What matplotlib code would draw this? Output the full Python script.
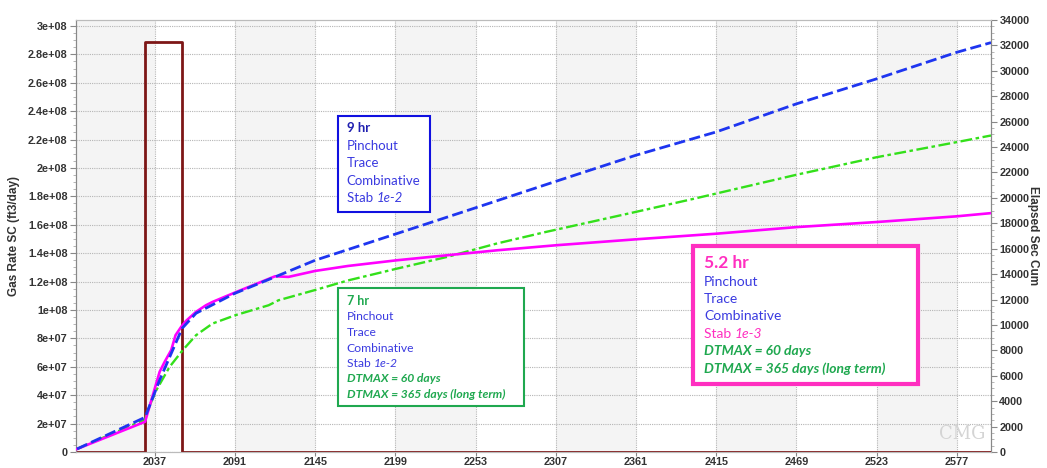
import matplotlib

matplotlib.use("Agg")
import matplotlib.pyplot as plt
from matplotlib.patches import Rectangle
from matplotlib.text import Annotation
from matplotlib.ticker import AutoMinorLocator, FixedLocator

# time axis ticks
x_ticks = [2037, 2091, 2145, 2199, 2253, 2307, 2361, 2415, 2469, 2523, 2577]
x_range = (1984, 2600)

# gas rate pulse (left axis)
rate_t = [1984, 2030.5, 2055.5, 2600]
rate_sc = [0, 2.89e8, 0, 0]

# elapsed CPU seconds (right axis), one run per setting
blue_t = [1984.7, 2030.5, 2040.3, 2055.5, 2064.8, 2091, 2118, 2145, 2199, 2253,
          2307, 2361, 2415, 2469, 2523, 2577, 2600]
blue_sec = [240, 2730, 5660, 9740, 10920, 12490, 13780, 15090, 17150, 19220,
            21300, 23360, 25190, 27400, 29370, 31460, 32220]

pink_t = [1984.7, 2030.5, 2040.3, 2043.7, 2048.1, 2051, 2054.8, 2058.1, 2064.8,
          2071.5, 2075.9, 2091, 2118, 2127, 2145, 2167, 2200, 2267, 2307, 2361,
          2415, 2469, 2523, 2577, 2600]
pink_sec = [240, 2380, 6310, 7100, 8020, 9190, 9850, 10320, 11030,
            11550, 11810, 12550, 13830, 13780, 14250, 14640, 15090, 15870, 16270, 16740,
            17180, 17700, 18100, 18550, 18800]

green_t = [1984.7, 2030.5, 2033, 2038.1, 2047, 2055.9, 2064.8, 2075.9, 2091.4,
           2113.7, 2120.3, 2145, 2167, 2200, 2233.7, 2267, 2300, 2361, 2400.3,
           2469, 2523, 2577, 2600]
green_sec = [240, 2550, 3500, 4870, 6700, 8020, 9190, 10110, 10770,
             11550, 11940, 12750, 13500, 14430, 15350, 16400, 17310, 18900, 19940,
             21820, 23200, 24390, 24910]

W, H = 1047, 468
TICK_FONT = dict(family="Liberation Sans", weight="bold", size=7.8, color="#333333")
BOX_FONT = "Lato"
C_BLUE_TXT = "#3a3ae0"
C_GREEN_TXT = "#1fa84f"
C_PINK = "#ff2fc0"

fig = plt.figure(figsize=(W / 100, H / 100), dpi=100)
ax = fig.add_axes([76 / W, 1 - 452 / H, (991 - 76) / W, (452 - 20) / H])
ax2 = ax.twinx()

ax.set_xlim(*x_range)
ax.set_ylim(0, 3.042e8)
ax2.set_ylim(0, 34000)

# alternating shaded bands between the time gridlines
edges = [x_range[0]] + x_ticks + [x_range[1]]
for i in range(len(edges) - 1):
    if i % 2 == 0:
        ax.axvspan(edges[i], edges[i + 1], color="#f4f4f4", zorder=0, lw=0)

ax.set_xticks(x_ticks)
ax.set_xticklabels([str(t) for t in x_ticks], **TICK_FONT)
ax.yaxis.set_major_locator(FixedLocator([i * 2e7 for i in range(16)]))
ylabels = ["0"] + [
    (f"{v:.1e}".replace(".0e", "e")) for v in [i * 2e7 for i in range(1, 16)]
]
ax.set_yticklabels(ylabels, **TICK_FONT)
ax.yaxis.set_minor_locator(AutoMinorLocator(4))

ax2.set_yticks(range(0, 34001, 2000))
ax2.set_yticklabels([str(v) for v in range(0, 34001, 2000)], **TICK_FONT)
ax2.yaxis.set_minor_locator(AutoMinorLocator(4))

for a in (ax, ax2):
    a.tick_params(axis="both", which="major", length=4, width=0.8, color="#888888", pad=2)
    a.tick_params(axis="both", which="minor", length=2, width=0.6, color="#aaaaaa")
    for s in a.spines.values():
        s.set_color("#bbbbbb")
        s.set_linewidth(0.8)
    a.spines["left"].set_color("#888888")
    a.spines["right"].set_color("#888888")
ax.tick_params(axis="x", which="major", length=3, pad=0.5)

ax.grid(True, which="major", color="#b5b5b5", linestyle=(0, (1, 1)), linewidth=0.8, zorder=1)
ax.set_axisbelow(True)

ax.set_ylabel("Gas Rate SC (ft3/day)", fontfamily="Liberation Sans", fontweight="bold",
              fontsize=8.5, color="#333333", labelpad=6)
ax2.set_ylabel("Elapsed Sec Cum", fontfamily="Liberation Sans", fontweight="bold",
               fontsize=8.5, color="#333333", rotation=-90, labelpad=7)

ax.step(rate_t, rate_sc, where="post", color="#7d1616", lw=2, zorder=3)

ax2.plot(green_t, green_sec, color="#33e01a", lw=1.7, dashes=(5, 1.5, 1.5, 1.5), zorder=4)
ax2.plot(pink_t, pink_sec, color="#ff00ff", lw=1.9, zorder=5)
ax2.plot(blue_t, blue_sec, color="#1e35f0", lw=2.0, dashes=(4, 1.6), zorder=6)


def px_text(x, y, s, **kw):
    kw.setdefault("family", BOX_FONT)
    kw.setdefault("zorder", 11)
    return fig.text(x / W, 1 - y / H, s, va="center", ha="left", **kw)


def stab_line(x, y, val, color, size):
    t = px_text(x, y, "Stab ", color=color, size=size)
    fig.add_artist(Annotation(val, xy=(1, 0), xycoords=t, va="bottom", ha="left",
                              family=BOX_FONT, color=color, size=size, style="italic",
                              zorder=11))


def box(x0, y0, x1, y1, color, lw):
    fig.add_artist(Rectangle((x0 / W, 1 - y1 / H), (x1 - x0) / W, (y1 - y0) / H,
                             transform=fig.transFigure, facecolor="white",
                             edgecolor=color, lw=lw, zorder=10))


# 9 hr run
box(337.7, 115.7, 430, 212.3, "#1010e0", 1.5)
px_text(346.7, 128.3, "9 hr", color="#2020b0", size=9.5, weight="bold")
for y, s in [(145.7, "Pinchout"), (163, "Trace"), (180.7, "Combinative")]:
    px_text(346.7, y, s, color=C_BLUE_TXT, size=9.5)
stab_line(346.7, 198, "1e-2", C_BLUE_TXT, 9.5)

# 7 hr run
box(337.7, 288.3, 524, 406, "#1fa84f", 1.5)
px_text(346.7, 301, "7 hr", color=C_GREEN_TXT, size=9, weight="bold")
for y, s in [(317, "Pinchout"), (333, "Trace"), (348.5, "Combinative")]:
    px_text(346.7, y, s, color=C_BLUE_TXT, size=8.7)
stab_line(346.7, 363.7, "1e-2", C_BLUE_TXT, 8.7)
px_text(346.7, 378.5, "DTMAX = 60 days", color=C_GREEN_TXT, size=8.7,
        weight="bold", style="italic")
px_text(346.7, 394.3, "DTMAX = 365 days (long term)", color=C_GREEN_TXT, size=8.7,
        weight="bold", style="italic")

# 5.2 hr run
box(693, 246, 918.3, 384, C_PINK, 3)
px_text(704, 263, "5.2 hr", color=C_PINK, size=12.5, weight="bold")
for y, s in [(281.7, "Pinchout"), (299, "Trace"), (316.3, "Combinative")]:
    px_text(704, y, s, color=C_BLUE_TXT, size=10)
stab_line(704, 333.5, "1e-3", C_PINK, 10)
px_text(704, 350.7, "DTMAX = 60 days", color=C_GREEN_TXT, size=10,
        weight="bold", style="italic")
px_text(704, 368.3, "DTMAX = 365 days (long term)", color=C_GREEN_TXT, size=10,
        weight="bold", style="italic")

# CMG watermark
fig.text(962 / W, 1 - 434 / H, "CMG", family="DejaVu Serif", size=13,
         color="#d4d4d4", ha="center", va="center")

fig.savefig("out.png", dpi=100)
